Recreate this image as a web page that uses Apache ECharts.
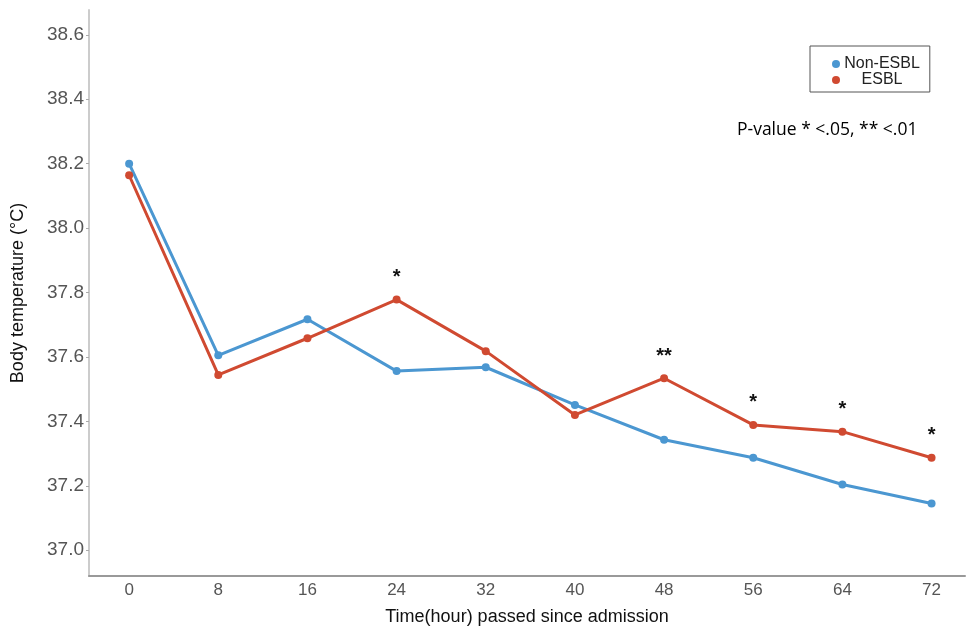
<!DOCTYPE html>
<html>
<head>
<meta charset="utf-8">
<script src="https://cdn.jsdelivr.net/npm/echarts@6/dist/echarts.min.js"></script>
<style>
  html, body { margin: 0; padding: 0; background: #fff; }
  #chart { width: 966px; height: 631px; }
</style>
</head>
<body>
<div id="chart"></div>
<script>
// hours since admission
const hours = [0, 8, 16, 24, 32, 40, 48, 56, 64, 72]
const nonEsbl = [38.20, 37.605, 37.717, 37.556, 37.568, 37.451, 37.343, 37.287, 37.204, 37.145]
const esbl = [38.164, 37.544, 37.658, 37.778, 37.618, 37.420, 37.534, 37.389, 37.368, 37.287]
// significance marks drawn above the ESBL points
const signif = ['', '', '', '*', '', '', '**', '*', '*', '*']
const yTicks = [37.0, 37.2, 37.4, 37.6, 37.8, 38.0, 38.2, 38.4, 38.6]

const chart = echarts.init(document.getElementById('chart'))

const font = 'Liberation Sans, Arial, sans-serif'

const option = {
  animation: false,
  grid: { left: 89, right: 1, top: 10, bottom: 52 },
  title: {
    text: 'P-value * <.05, ** <.01',
    left: 732,
    top: 116,
    textStyle: { fontSize: 17.5, fontWeight: 'normal', color: '#000', fontFamily: 'Open Sans, sans-serif' }
  },
  legend: {
    orient: 'vertical',
    left: 810,
    top: 46,
    padding: [10, 10, 4, 22],
    itemGap: 0,
    itemWidth: 8,
    itemHeight: 8,
    borderColor: '#555',
    borderWidth: 1,
    icon: 'circle',
    formatter: name => '{a|' + name + '}',
    textStyle: {
      fontSize: 16, color: '#222', fontFamily: font,
      rich: { a: { width: 74, align: 'center', fontSize: 16, color: '#222', fontFamily: font } }
    },
    data: ['Non-ESBL', 'ESBL']
  },
  xAxis: {
    type: 'value',
    min: -3.6,
    max: 75,
    name: 'Time(hour) passed since admission',
    nameLocation: 'middle',
    nameGap: 32,
    nameTextStyle: { fontSize: 18, color: '#111', fontFamily: font },
    axisLine: { onZero: false, lineStyle: { color: '#999', width: 2 } },
    axisTick: { show: false },
    splitLine: { show: false },
    axisLabel: {
      customValues: hours,
      fontSize: 17,
      color: '#555',
      fontFamily: font,
      margin: 6
    }
  },
  yAxis: {
    type: 'value',
    min: 36.92,
    max: 38.677,
    name: 'Body temperature (°C)',
    nameLocation: 'middle',
    nameGap: 62,
    nameTextStyle: { fontSize: 18, color: '#111', fontFamily: font },
    axisLine: { show: true, onZero: false, lineStyle: { color: '#ccc', width: 2 } },
    axisTick: { show: true, customValues: yTicks, length: 3, lineStyle: { color: '#aaa' } },
    splitLine: { show: false },
    axisLabel: {
      customValues: yTicks,
      formatter: v => v.toFixed(1),
      fontSize: 19,
      color: '#555',
      fontFamily: font,
      margin: 5
    }
  },
  series: [
    {
      name: 'Non-ESBL',
      type: 'line',
      data: hours.map((h, i) => [h, nonEsbl[i]]),
      symbol: 'circle',
      symbolSize: 8,
      color: '#4b97d1',
      lineStyle: { width: 3, color: '#4b97d1' }
    },
    {
      name: 'ESBL',
      type: 'line',
      data: hours.map((h, i) => [h, esbl[i]]),
      symbol: 'circle',
      symbolSize: 8,
      color: '#d04a31',
      lineStyle: { width: 3, color: '#d04a31' },
      label: {
        show: true,
        position: 'top',
        distance: 8,
        formatter: p => signif[p.dataIndex],
        fontSize: 20,
        fontWeight: 'bold',
        color: '#111',
        fontFamily: font
      }
    }
  ]
}

chart.setOption(option)
</script>
</body>
</html>
